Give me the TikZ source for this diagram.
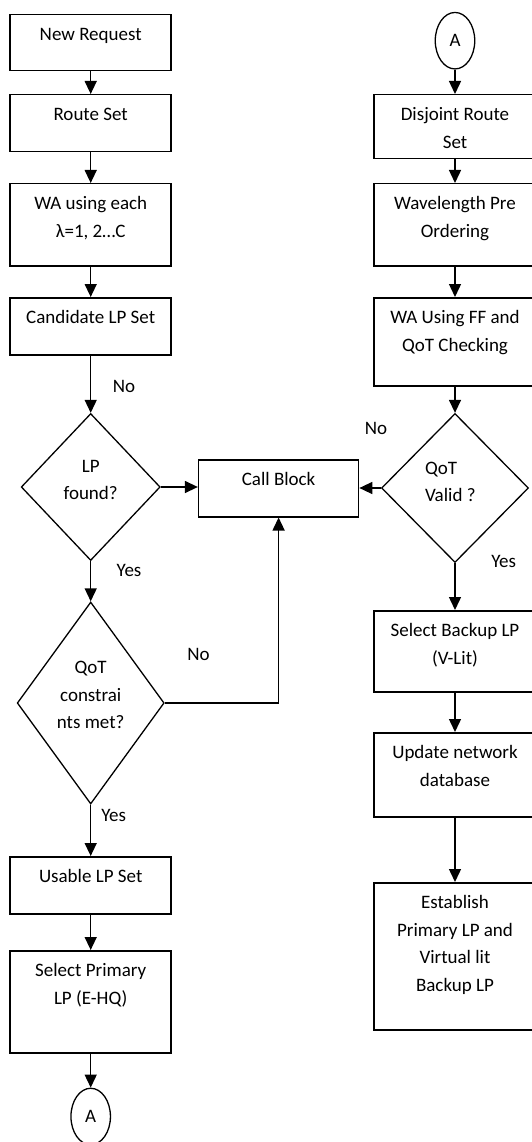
\documentclass[tikz,border=0pt]{standalone}
\usepackage{fontspec}
\setmainfont{Carlito}
\usetikzlibrary{shapes.geometric,arrows.meta}
\newcommand\bt[2]{\parbox[c][#1pt][t]{150pt}{\centering\rule{0pt}{26pt}#2}}
\newcommand\dt[4]{\parbox[c][#1pt][t]{#2pt}{#3\rule{0pt}{13pt}#4}}
\begin{document}
\begin{tikzpicture}[x=1pt,y=-1pt,
  every node/.style={font=\fontsize{19}{27.5}\selectfont},
  box/.style={draw, line width=1.5pt, inner sep=0pt, anchor=north, minimum width=161pt},
  rbox/.style={box, minimum width=162pt},
  dia/.style={draw, diamond, line width=1.3pt, inner sep=0pt},
  term/.style={draw, ellipse, line width=1.3pt, minimum width=39.5pt, minimum height=56.5pt, inner sep=0pt},
  conn/.style={line width=1.4pt},
  arr/.style={conn, -{Triangle[width=12pt,length=13pt]}},
  lbl/.style={anchor=base, inner sep=0pt}]
\useasboundingbox (0,0) rectangle (532,1142);
\clip (0,0) rectangle (532,1142);
% left column
\node[box] (n1) at (90.7,14) {\bt{56}{New Request}};
\node[box] (n2) at (90.7,94) {\bt{57}{Route Set}};
\node[box] (n3) at (90.7,183) {\bt{82}{WA using each\\λ=1, 2…C}};
\node[box] (n4) at (90.7,297) {\bt{57}{Candidate LP Set}};
\node[dia, minimum width=139pt, minimum height=147pt] (d1) at (90.7,487) {\dt{56}{60}{\centering}{LP\\found?}};
\node[dia, aspect=0.7, minimum width=147pt, minimum height=202pt] (d2) at (90.7,703) {\dt{85}{72}{\centering}{QoT\\constrai\\nts met?}};
\node[box] (n5) at (90.7,856) {\bt{57}{Usable LP Set}};
\node[box] (n6) at (90.7,950) {\bt{102}{Select Primary\\LP (E-HQ)}};
\node[term] (a2) at (90.7,1116.5) {A};
% middle
\node[box, minimum width=160pt] (cb) at (278.6,459) {\bt{57}{Call Block}};
% right column
\node[term] (a1) at (455,40.7) {A};
\node[rbox] (r1) at (455,94) {\bt{64}{Disjoint Route\\Set}};
\node[rbox] (r2) at (455,183) {\bt{82}{Wavelength Pre\\Ordering}};
\node[rbox] (r3) at (455,297) {\bt{88}{WA Using FF and\\QoT Checking}};
\node[dia, minimum width=147pt, minimum height=149pt] (d3) at (455,488) {\dt{54}{60}{\raggedright}{QoT\\Valid ?}};
\node[rbox] (r4) at (455,610) {\bt{81}{Select Backup LP\\(V-Lit)}};
\node[rbox] (r5) at (455,732) {\bt{84}{Update network\\database}};
\node[rbox] (r6) at (455,882) {\bt{147}{Establish\\Primary LP and\\Virtual lit\\Backup LP}};
% labels
\node[lbl] (no1) at (124,392) {No};
\node[lbl] (yes1) at (129,576) {Yes};
\node[lbl] (no2) at (198.5,660.7) {No};
\node[lbl] (yes2) at (113.7,821.7) {Yes};
\node[lbl] (no3) at (376,434.3) {No};
\node[lbl] (yes3) at (503.7,567.7) {Yes};
% connectors
\draw[arr] (n1.south) -- (n2.north);
\draw[arr] (n2.south) -- (n3.north);
\draw[arr] (n3.south) -- (n4.north);
\draw[arr] (n4.south) -- (d1.north);
\draw[arr] (d1.east) -- (cb.west |- d1.east);
\draw[arr] (d1.south) -- (d2.north);
\draw[arr] (d2.east) -| (cb.south);
\draw[arr] (d2.south) -- (n5.north);
\draw[arr] (n5.south) -- (n6.north);
\draw[arr] (n6.south) -- (a2.north);
\draw[arr] (a1.south) -- (r1.north);
\draw[arr] (r1.south) -- (r2.north);
\draw[arr] (r2.south) -- (r3.north);
\draw[arr] (r3.south) -- (d3.north);
\draw[arr] (d3.west) -- (cb.east |- d3.west);
\draw[arr] (d3.south) -- (r4.north);
\draw[arr] (r4.south) -- (r5.north);
\draw[arr] (r5.south) -- (r6.north);
\end{tikzpicture}
\end{document}
